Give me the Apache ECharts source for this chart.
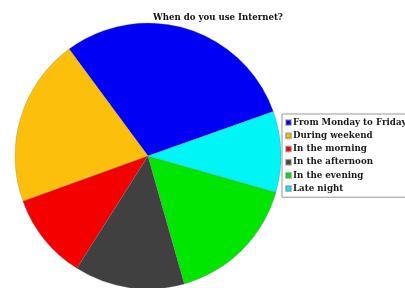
<!DOCTYPE html>
<html>
<head>
<meta charset="utf-8">
<script src="https://cdn.jsdelivr.net/npm/echarts@6/dist/echarts.min.js"></script>
<style>
  html, body { margin: 0; padding: 0; background: #fff; }
  #chart { width: 405px; height: 288px; }
</style>
</head>
<body>
<div id="chart"></div>
<script>
const categories = ['From Monday to Friday', 'During weekend', 'In the morning', 'In the afternoon', 'In the evening', 'Late night']
const values = [29.7, 20.4, 10.5, 13.4, 16.2, 9.8]
const colors = ['#0000f4', '#fcbf0c', '#f40000', '#404040', '#00e600', '#00f6f6']

const chart = echarts.init(document.getElementById('chart'))
const option = {
  animation: false,
  title: {
    text: 'When do you use Internet?',
    left: 213,
    top: 8,
    textAlign: 'center',
    textStyle: {
      fontFamily: 'DejaVu Serif',
      fontWeight: 'bold',
      fontSize: 8.6,
      color: '#111'
    }
  },
  legend: {
    orient: 'vertical',
    left: 282,
    top: 114,
    padding: [3, 6, 3, 3],
    borderColor: '#999',
    borderWidth: 1,
    borderRadius: 0,
    itemWidth: 5,
    itemHeight: 5,
    itemGap: 2,
    icon: 'rect',
    textStyle: {
      fontFamily: 'DejaVu Serif',
      fontWeight: 'bold',
      fontSize: 8.7,
      lineHeight: 11.2,
      color: '#1a1a1a',
      padding: [0, 0, 0, -3]
    },
    data: categories
  },
  series: [
    {
      type: 'pie',
      center: [148, 156],
      radius: 133,
      startAngle: 19.5,
      clockwise: false,
      label: { show: false },
      labelLine: { show: false },
      itemStyle: {
        borderColor: 'rgba(120,120,120,0.5)',
        borderWidth: 0.6
      },
      emphasis: { disabled: true },
      data: categories.map((name, i) => ({
        name: name,
        value: values[i],
        itemStyle: { color: colors[i] }
      }))
    }
  ]
}
chart.setOption(option)
</script>
</body>
</html>
